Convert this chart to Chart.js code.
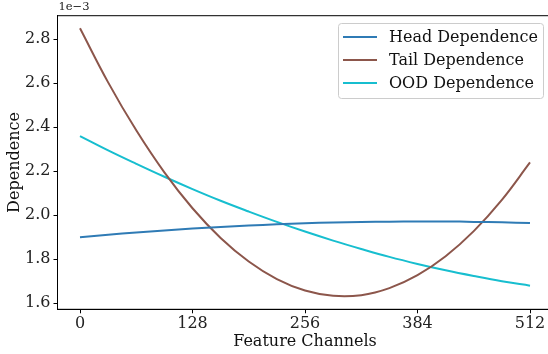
<!DOCTYPE html>
<html>
<head>
<meta charset="utf-8">
<script src="https://cdn.jsdelivr.net/npm/chart.js@4/dist/chart.umd.min.js"></script>
<style>
  html, body { margin: 0; padding: 0; background: #fff; overflow: hidden; }
  #wrap { position: relative; width: 556px; height: 354px; }
</style>
</head>
<body>
<div id="wrap"><canvas id="depChart" width="556" height="354"></canvas></div>
<script>
// feature channel index (x)
const channels = [0, 32, 64, 96, 128, 160, 192, 224, 256, 288, 320, 352, 384, 416, 448, 480, 512];

// dependence values, in units of 1e-3
const headDep = [1.900, 1.911, 1.922, 1.931, 1.940, 1.947, 1.953, 1.959, 1.964, 1.967, 1.970, 1.971, 1.972, 1.972, 1.970, 1.968, 1.965];
const tailDep = [2.850, 2.604, 2.386, 2.195, 2.032, 1.897, 1.790, 1.710, 1.658, 1.634, 1.637, 1.669, 1.728, 1.814, 1.928, 2.070, 2.240];
const oodDep  = [2.360, 2.295, 2.234, 2.175, 2.119, 2.066, 2.017, 1.970, 1.926, 1.885, 1.847, 1.811, 1.779, 1.750, 1.724, 1.700, 1.680];

const seriesNames = ["Head Dependence", "Tail Dependence", "OOD Dependence"];
const seriesColors = ["#2f7bb5", "#8c564b", "#17becf"];

const xTicks = [0, 128, 256, 384, 512];
const yTicks = [1.6, 1.8, 2.0, 2.2, 2.4, 2.6, 2.8];

const FONT = "'DejaVu Serif', serif";
const FS = 16;

const toPoints = (vals) => vals.map((v, i) => ({ x: channels[i], y: v }));

// matplotlib-like full box + offset text + legend
const boxPlugin = {
  id: "boxPlugin",
  afterDraw(chart) {
    const { ctx, chartArea } = chart;
    ctx.save();
    ctx.strokeStyle = "#000";
    ctx.lineWidth = 1;
    ctx.strokeRect(chartArea.left, chartArea.top, chartArea.right - chartArea.left, chartArea.bottom - chartArea.top);

    // exponent label
    ctx.fillStyle = "#222";
    ctx.font = "11.5px " + FONT;
    ctx.textBaseline = "middle";
    ctx.textAlign = "left";
    ctx.fillText("1e\u22123", chartArea.left + 1, 7);

    // legend
    const lx = 338, ly = 23, lw = 205, lh = 75;
    ctx.beginPath();
    ctx.roundRect(lx + 0.5, ly + 0.5, lw, lh, 3);
    ctx.fillStyle = "rgba(255,255,255,0.85)";
    ctx.fill();
    ctx.strokeStyle = "#cccccc";
    ctx.lineWidth = 1;
    ctx.stroke();

    ctx.font = FS + "px " + FONT;
    ctx.textBaseline = "middle";
    chart.data.datasets.forEach((ds, i) => {
      const y = 37 + i * 23;
      ctx.strokeStyle = ds.borderColor;
      ctx.lineWidth = 2;
      ctx.beginPath();
      ctx.moveTo(343, y);
      ctx.lineTo(377, y);
      ctx.stroke();
      ctx.fillStyle = "#111";
      ctx.fillText(ds.label, 389, y + 1);
    });
    ctx.restore();
  }
};

new Chart(document.getElementById("depChart"), {
  type: "line",
  data: {
    datasets: [
      { label: seriesNames[0], data: toPoints(headDep), borderColor: seriesColors[0] },
      { label: seriesNames[1], data: toPoints(tailDep), borderColor: seriesColors[1] },
      { label: seriesNames[2], data: toPoints(oodDep), borderColor: seriesColors[2] }
    ].map(d => ({ ...d, borderWidth: 2, pointRadius: 0, fill: false, tension: 0.4 }))
  },
  options: {
    responsive: false,
    animation: false,
    layout: { padding: { top: 15.7, right: 3.5, left: 0, bottom: 0 } },
    plugins: {
      legend: { display: false },
      tooltip: { enabled: false }
    },
    scales: {
      x: {
        type: "linear",
        min: -25.6,
        max: 537.6,
        afterFit: (s) => { s.height = 44.7; },
        afterBuildTicks: (s) => { s.ticks = xTicks.map(v => ({ value: v })); },
        grid: { drawOnChartArea: false, tickLength: 4, tickColor: "#000", tickWidth: 1 },
        border: { display: true, color: "#000", width: 1 },
        ticks: { color: "#222", font: { family: FONT, size: FS }, padding: 1, maxRotation: 0 },
        title: { display: true, text: "Feature Channels", color: "#111", font: { family: FONT, size: FS }, padding: { top: 0, bottom: 3 } }
      },
      y: {
        min: 1.5727,
        max: 2.907,
        afterFit: (s) => { s.width = 57.5; },
        afterBuildTicks: (s) => { s.ticks = yTicks.map(v => ({ value: v })); },
        grid: { drawOnChartArea: false, tickLength: 4, tickColor: "#000", tickWidth: 1 },
        border: { display: true, color: "#000", width: 1 },
        ticks: { color: "#222", font: { family: FONT, size: FS }, padding: 3, callback: (v) => v.toFixed(1) },
        title: { display: true, text: "Dependence", color: "#111", font: { family: FONT, size: FS }, padding: { top: 5.5, bottom: 0 } }
      }
    }
  },
  plugins: [boxPlugin]
});
</script>
</body>
</html>
